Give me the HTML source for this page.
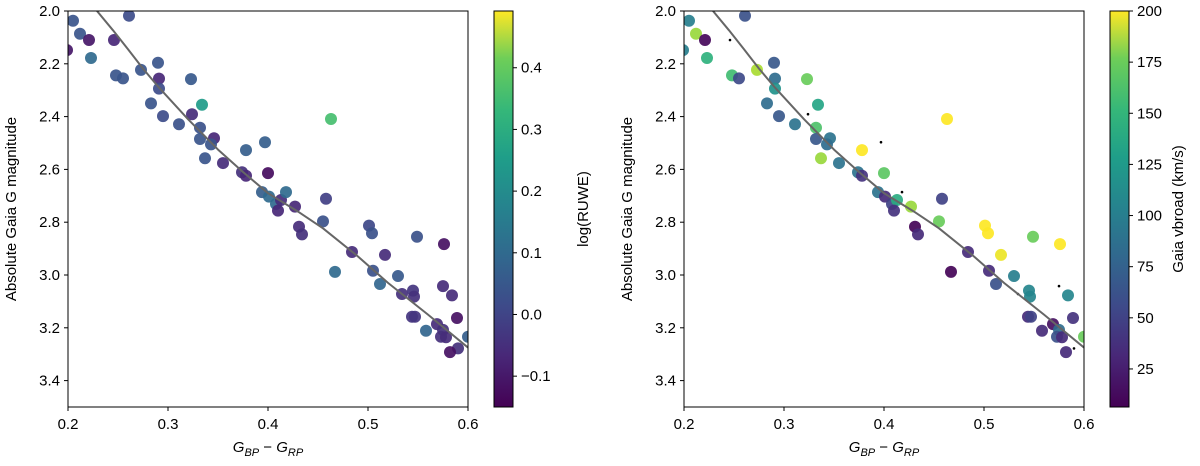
<!DOCTYPE html>
<html><head><meta charset="utf-8"><style>
body{margin:0;background:#fff;}
svg{display:block;font-family:"Liberation Sans","DejaVu Sans",sans-serif;}
</style></head><body>
<svg id="fig" width="1200" height="466" viewBox="0 0 1200 466" xmlns="http://www.w3.org/2000/svg">
<defs>
<linearGradient id="vir" x1="0" y1="1" x2="0" y2="0">
<stop offset="0" stop-color="#440154"/><stop offset="0.13" stop-color="#482878"/><stop offset="0.25" stop-color="#3e4989"/><stop offset="0.38" stop-color="#31688e"/><stop offset="0.5" stop-color="#26828e"/><stop offset="0.63" stop-color="#1f9e89"/><stop offset="0.75" stop-color="#35b779"/><stop offset="0.88" stop-color="#6ece58"/><stop offset="1" stop-color="#fde725"/>
</linearGradient>
</defs>
<g id="root"></g>
</svg>
<script>
const colors = [0.205,0.212,0.221,0.246,0.261,0.223,0.248,0.255,0.273,0.290,0.291,0.291,0.323,0.334,0.283,0.295,0.311,0.324,0.332,0.332,0.346,0.343,0.337,0.355,0.378,0.397,0.463,0.374,0.378,0.400,0.394,0.401,0.408,0.413,0.418,0.410,0.427,0.458,0.431,0.434,0.455,0.501,0.504,0.549,0.576,0.484,0.517,0.467,0.505,0.512,0.530,0.534,0.545,0.546,0.575,0.584,0.544,0.547,0.589,0.558,0.569,0.575,0.573,0.578,0.590,0.582,0.600,0.199];
const mags = [2.037,2.086,2.110,2.110,2.018,2.178,2.244,2.255,2.223,2.196,2.256,2.294,2.258,2.355,2.350,2.398,2.429,2.391,2.442,2.485,2.482,2.505,2.558,2.576,2.527,2.497,2.409,2.611,2.624,2.614,2.686,2.703,2.731,2.716,2.686,2.756,2.741,2.711,2.817,2.846,2.797,2.813,2.842,2.855,2.883,2.913,2.924,2.988,2.984,3.034,3.004,3.072,3.059,3.082,3.042,3.077,3.158,3.158,3.163,3.211,3.186,3.208,3.234,3.236,3.278,3.292,3.234,2.148];
const logRuwe = [0.02,0.02,-0.11,-0.08,0.0,0.07,0.02,0.02,0.02,0.02,-0.08,0.0,0.03,0.2,0.02,0.0,0.01,-0.07,0.01,0.02,-0.08,0.02,0.02,-0.07,0.04,0.04,0.3,-0.06,-0.08,-0.13,0.04,0.07,0.07,-0.07,0.07,-0.08,-0.08,-0.03,-0.07,-0.06,0.01,-0.01,0.01,0.01,-0.12,-0.07,-0.07,0.07,0.01,0.06,0.03,-0.06,-0.05,-0.06,-0.07,-0.07,-0.05,-0.05,-0.12,0.06,-0.07,-0.06,-0.06,-0.07,-0.06,-0.12,0.04,-0.11];
const vbroad = [90,170,10,null,55,130,140,50,175,60,75,105,155,120,75,60,80,null,145,60,80,75,170,80,200,null,200,80,35,150,80,30,45,125,null,35,170,45,8,30,155,200,200,155,200,30,195,8,30,55,90,null,95,95,null,95,30,45,35,30,15,75,55,30,null,30,155,90];
const fitC = [0.229,0.245,0.26,0.275,0.291,0.32,0.35,0.375,0.40,0.43,0.455,0.49,0.52,0.56,0.6];
const fitM = [2.0,2.073,2.145,2.218,2.29,2.41,2.525,2.61,2.69,2.76,2.823,2.93,3.03,3.15,3.275];
const xTicks = [0.2,0.3,0.4,0.5,0.6];
const yTicks = [2.0,2.2,2.4,2.6,2.8,3.0,3.2,3.4];
const ruweTicks = [-0.1,0.0,0.1,0.2,0.3,0.4];
const vbTicks = [25,50,75,100,125,150,175,200];

const NS="http://www.w3.org/2000/svg";
const root=document.getElementById('root');
function mk(tag,attrs,parent){const e=document.createElementNS(NS,tag);for(const k in attrs)e.setAttribute(k,attrs[k]);(parent||root).appendChild(e);return e;}
const VIR=[[68,1,84],[72,40,120],[62,73,137],[49,104,142],[38,130,142],[31,158,137],[53,183,121],[110,206,88],[181,222,43],[253,231,37]];
function viridis(t){t=Math.max(0,Math.min(1,t));const s=t*(VIR.length-1);const i=Math.min(Math.floor(s),VIR.length-2);const f=s-i;const a=VIR[i],b=VIR[i+1];return `rgb(${Math.round(a[0]+(b[0]-a[0])*f)},${Math.round(a[1]+(b[1]-a[1])*f)},${Math.round(a[2]+(b[2]-a[2])*f)})`;}

function panel(x0,cbx,cvals,vmin,vmax,cticks,cblabel,fmt,pname,lblOff){
  const x1=x0+400,y0=11,y1=407;
  const sx=c=>x0+(c-0.2)/0.4*(x1-x0);
  const sy=m=>y0+(m-2.0)/1.5*(y1-y0);
  const g=mk('g',{});
  
  
  const clip='clip'+x0;
  const cp=mk('clipPath',{id:clip},g);mk('rect',{x:x0,y:y0,width:x1-x0,height:y1-y0},cp);
  const pts=mk('g',{'clip-path':`url(#${clip})`},g);
  for(let i=0;i<colors.length;i++){
    const v=cvals[i];
    if(v===null){const d=mk('circle',{cx:sx(colors[i]),cy:sy(mags[i]),r:1.3,fill:'#000'},pts);
      
      continue;}
    const c=mk('circle',{cx:sx(colors[i]),cy:sy(mags[i]),r:6,fill:viridis((v-vmin)/(vmax-vmin)),'fill-opacity':0.92},pts);
    
    
  }
  const lp=fitC.map((c,i)=>`${sx(c).toFixed(1)},${sy(fitM[i]).toFixed(1)}`).join(' ');
  const ln=mk('polyline',{points:lp,fill:'none',stroke:'#666',"stroke-width":2,'stroke-linejoin':'round'},pts);
  
  
  const fr=mk('rect',{x:x0,y:y0,width:x1-x0,height:y1-y0,fill:'none',stroke:'#000','stroke-width':1},g);
  
  
  xTicks.forEach(t=>{const x=sx(t);mk('line',{x1:x,x2:x,y1:y1,y2:y1+4,stroke:'#000'},g);
    const tx=mk('text',{x:x,y:y1+22,'font-size':15,'text-anchor':'middle'},g);tx.textContent=t.toFixed(1);
    
    });
  yTicks.forEach(t=>{const y=sy(t);mk('line',{x1:x0-4,x2:x0,y1:y,y2:y,stroke:'#000'},g);
    const tx=mk('text',{x:x0-8,y:y+5,'font-size':15,'text-anchor':'end'},g);tx.textContent=t.toFixed(1);
    
    });
  const xl=mk('text',{x:(x0+x1)/2,y:452,'font-size':15,'text-anchor':'middle','font-style':'italic'},g);
  xl.innerHTML='G<tspan font-size="11" dy="4">BP</tspan><tspan dy="-4" font-style="normal"> − </tspan>G<tspan font-size="11" dy="4">RP</tspan>';
  
  
  const yl=mk('text',{x:0,y:0,'font-size':15,'text-anchor':'middle',transform:`translate(${x0-52},${(y0+y1)/2}) rotate(-90)`},g);
  yl.textContent='Absolute Gaia G magnitude';
  
  
  const cb=mk('rect',{x:cbx,y:y0,width:19,height:y1-y0,fill:'url(#vir)',stroke:'#000','stroke-width':1},g);
  
  
  const cy=v=>y1-(v-vmin)/(vmax-vmin)*(y1-y0);
  cticks.forEach(t=>{const y=cy(t);mk('line',{x1:cbx+19,x2:cbx+23,y1:y,y2:y,stroke:'#000'},g);
    const tx=mk('text',{x:cbx+27,y:y+5,'font-size':15},g);tx.textContent=fmt(t);
    
    });
  const cl=mk('text',{x:0,y:0,'font-size':15,'text-anchor':'middle',transform:`translate(${cbx+lblOff},${(y0+y1)/2}) rotate(-90)`},g);
  cl.textContent=cblabel;
  
  
}
panel(68,494,logRuwe,-0.15,0.492,ruweTicks,'log(RUWE)',t=>t.toFixed(1).replace('-','−'),'left-panel',94);
panel(684,1110,vbroad,6.4,200,vbTicks,'Gaia vbroad (km/s)',t=>String(t),'right-panel',73);
</script>
</body></html>
